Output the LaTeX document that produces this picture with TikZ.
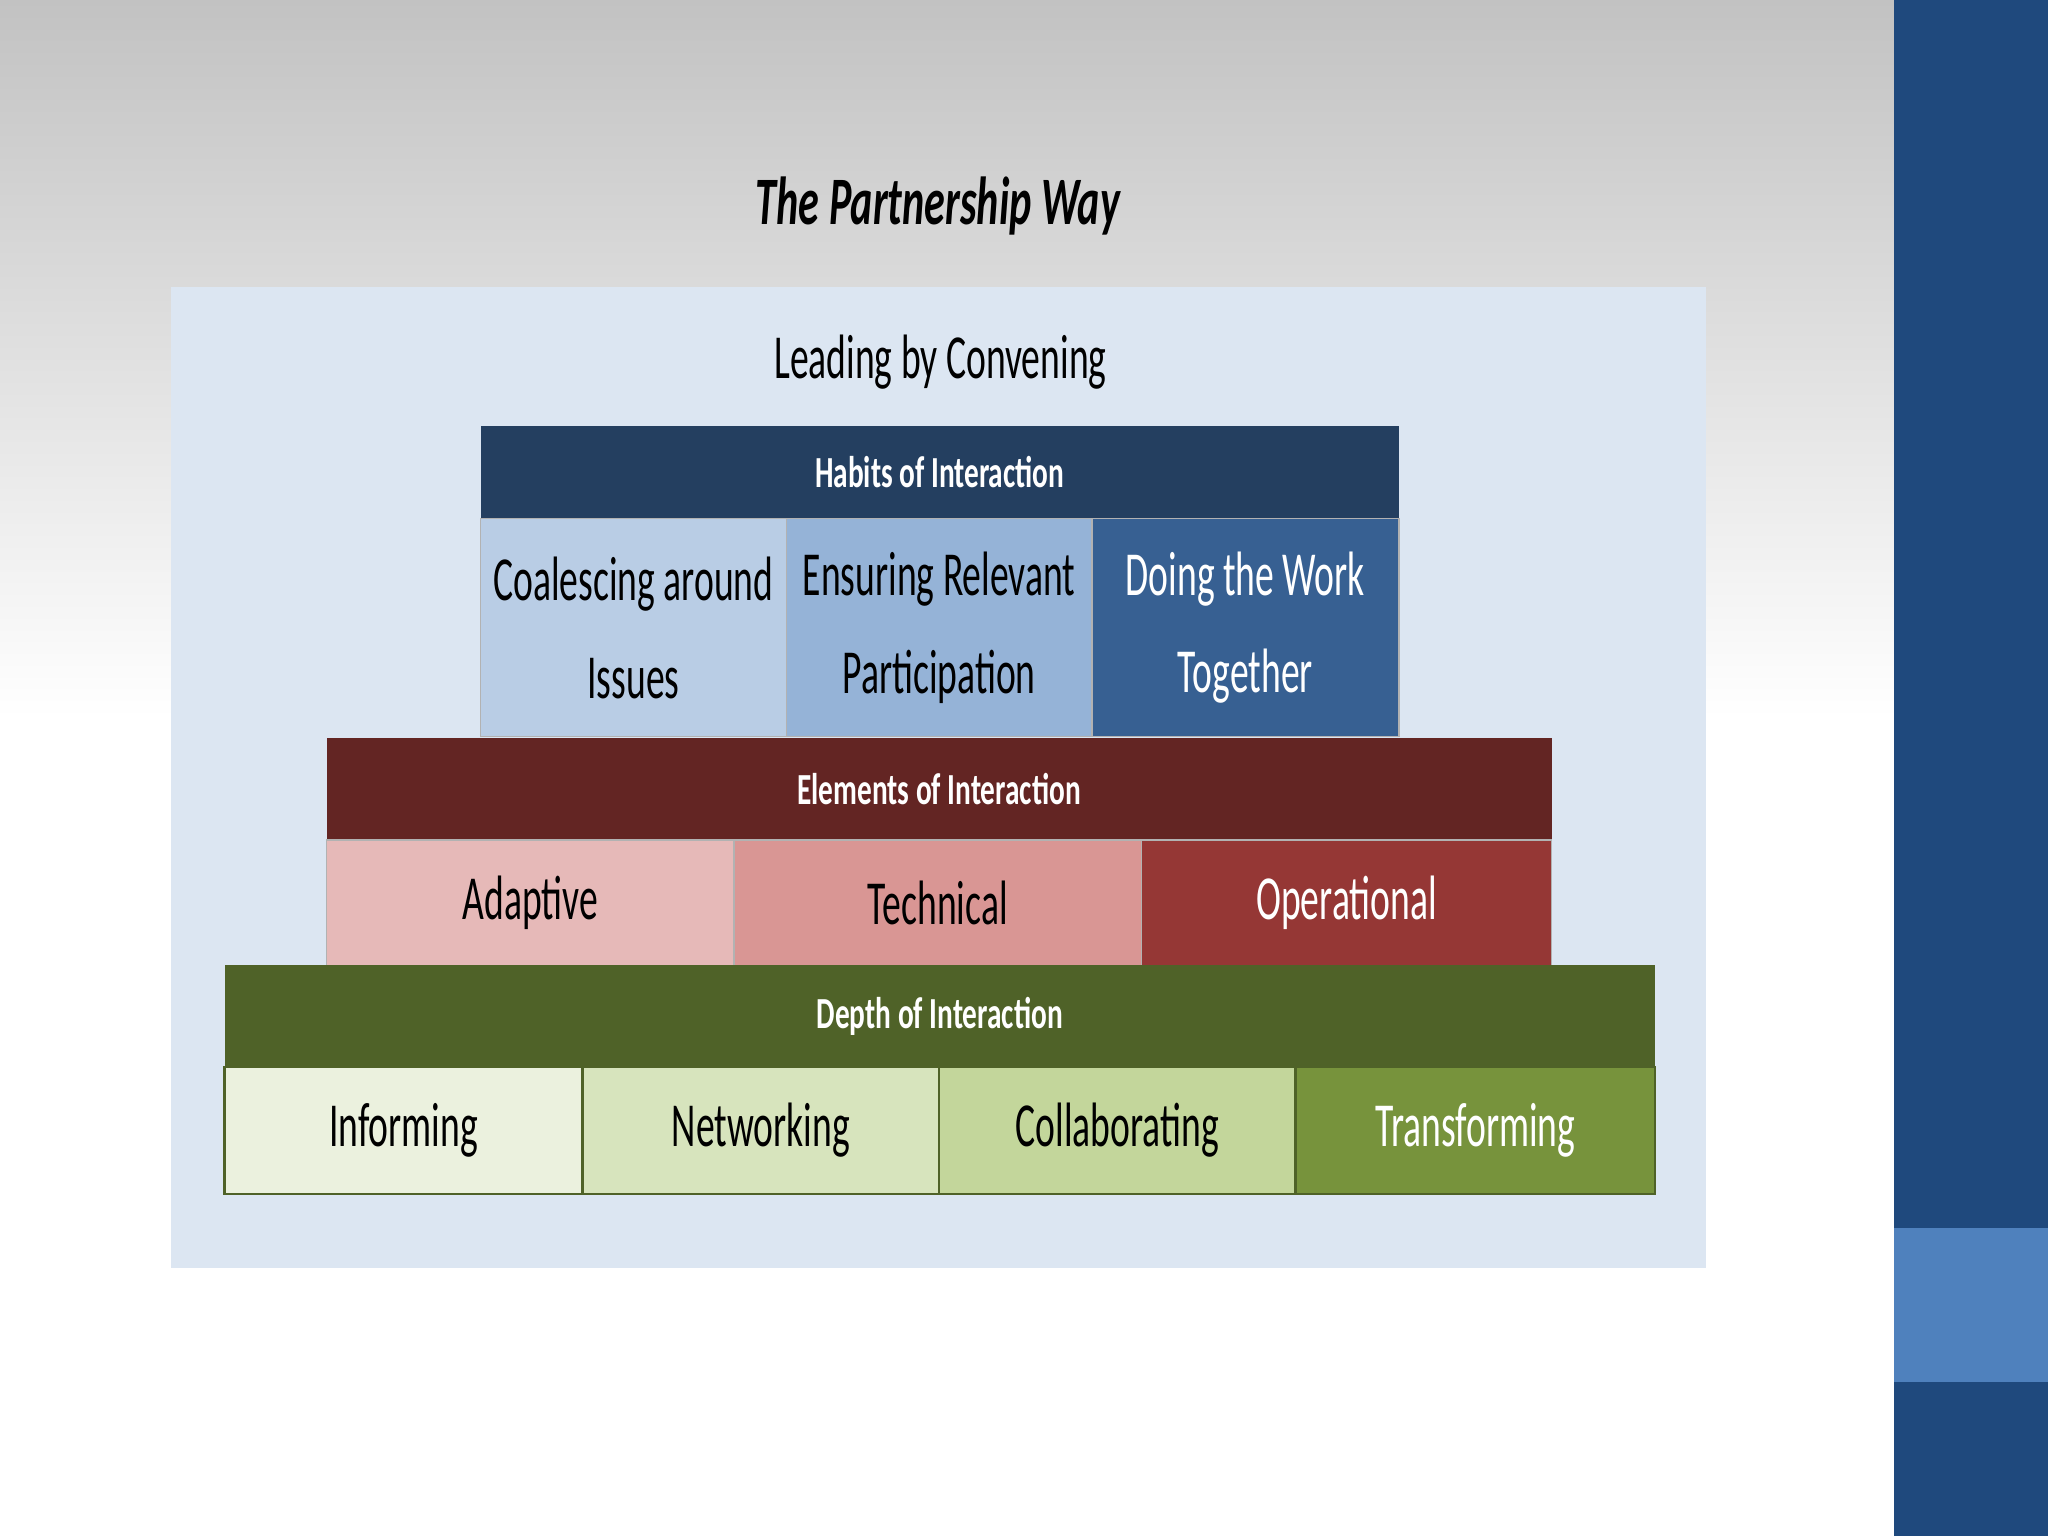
\documentclass[tikz,border=0pt]{standalone}
\usepackage{fontspec}
\usepackage{graphicx}
\setmainfont{Carlito}
\newcommand{\cx}[1]{\scalebox{0.6}[1]{#1}}
\newcommand{\hx}[1]{\scalebox{0.66}[1]{#1}}
\begin{document}
\begin{tikzpicture}[x=1pt,y=-1pt,
  cell/.style={draw=white!70!black,line width=1pt,minimum height=#1,inner sep=0pt,outer sep=0pt,anchor=north west,font=\fontsize{48}{75}\selectfont,align=center},
  hdr/.style={inner sep=0pt,outer sep=0pt,anchor=north west},
  htxt/.style={white,font=\bfseries\fontsize{34}{36}\selectfont}]
\definecolor{band}{RGB}{31,73,125}
\definecolor{bandl}{RGB}{79,129,189}
\definecolor{panel}{RGB}{220,230,242}
\useasboundingbox (0,0) rectangle (1568,1176);
\begin{scope}
\clip (0,0) rectangle (1450,1176);
\shade[inner color=white,outer color=black!12,middle color=white] (-500,-600) rectangle (1900,1700);
\end{scope}
\fill[band] (1450,0) rectangle (1568,1176);
\fill[bandl] (1450,940) rectangle (1568,1058);
\fill[panel] (131,220) rectangle (1306,971);
\node (title) at (718,158) {\bfseries\itshape\fontsize{52}{54}\selectfont\scalebox{0.62}[1]{The Partnership Way}};
\node (lead) at (720,277) {\fontsize{48}{50}\selectfont\scalebox{0.6}[1]{Leading by Convening}};
% Habits
\node[hdr,fill={rgb,255:red,36;green,63;blue,96},minimum width=703,minimum height=71] (hh) at (368,326) {};
\node[htxt] at (hh.center) {\hx{Habits of Interaction}};
\node[cell=167,minimum width=234,fill={rgb,255:red,185;green,205;blue,229}] (h1) at (368,397) {\cx{Coalescing around}\\\cx{Issues}};
\node[cell=167,minimum width=234,fill={rgb,255:red,149;green,179;blue,215}] (h2) at (602,397) {\cx{Ensuring Relevant}\\\cx{Participation}};
\node[cell=167,minimum width=235,fill={rgb,255:red,55;green,96;blue,146},text=white] (h3) at (836,397) {\cx{Doing the Work}\\\cx{Together}};
% Elements
\node[hdr,fill={rgb,255:red,99;green,37;blue,35},minimum width=938,minimum height=78] (eh) at (250,565) {};
\node[htxt] at (eh.center) {\hx{Elements of Interaction}};
\node[cell=97,minimum width=312,fill={rgb,255:red,230;green,185;blue,184}] (e1) at (250,643) {\cx{Adaptive}};
\node[cell=97,minimum width=312,fill={rgb,255:red,217;green,150;blue,148}] (e2) at (562,643) {\cx{Technical}};
\node[cell=97,minimum width=314,fill={rgb,255:red,149;green,55;blue,53},text=white] (e3) at (874,643) {\cx{Operational}};
% Depth
\node[hdr,fill={rgb,255:red,79;green,98;blue,40},minimum width=1095,minimum height=78] (dh) at (172,739) {};
\node[htxt] at (dh.center) {\hx{Depth of Interaction}};
\node[cell=97,minimum width=274,fill={rgb,255:red,235;green,241;blue,222},draw={rgb,255:red,79;green,98;blue,40},line width=2pt] (d1) at (172,817) {\cx{Informing}};
\node[cell=97,minimum width=273,fill={rgb,255:red,215;green,228;blue,189},draw={rgb,255:red,79;green,98;blue,40},line width=2pt] (d2) at (446,817) {\cx{Networking}};
\node[cell=97,minimum width=273,fill={rgb,255:red,195;green,214;blue,155},draw={rgb,255:red,79;green,98;blue,40},line width=2pt] (d3) at (719,817) {\cx{Collaborating}};
\node[cell=97,minimum width=275,fill={rgb,255:red,119;green,147;blue,60},draw={rgb,255:red,79;green,98;blue,40},line width=2pt,text=white] (d4) at (992,817) {\cx{Transforming}};
\end{tikzpicture}
\end{document}
